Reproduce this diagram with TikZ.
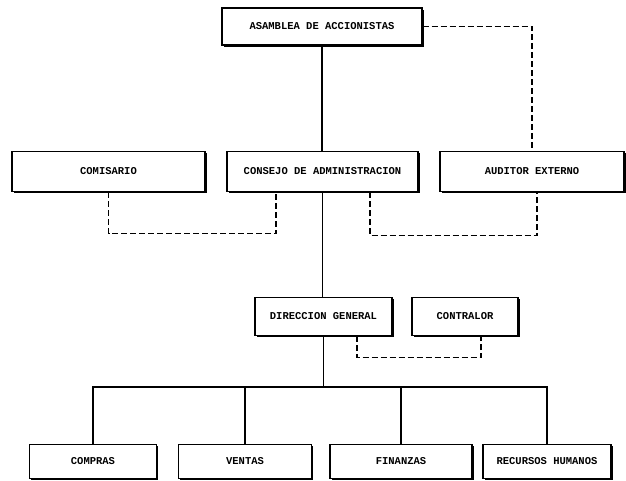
\documentclass[tikz,border=0pt]{standalone}
\usepackage{fontspec}
\setmonofont{Liberation Mono}
\usetikzlibrary{shadows}
\begin{document}
\begin{tikzpicture}[x=1pt,y=-1pt,
    unidad/.style={draw,line width=1.1pt,fill=white,inner sep=0pt,minimum height=#1,
      font=\ttfamily\bfseries\fontsize{10.5}{12}\selectfont,
      drop shadow={shadow xshift=1.5pt,shadow yshift=-1.8pt,opacity=1,fill=black}},
    unidad/.default=40pt,
    linea/.style={line width=1.1pt},
    staff/.style={line width=1.1pt,dash pattern=on 6pt off 3pt}]
  \useasboundingbox (0,0) rectangle (626,481);
  \node[unidad=37pt,minimum width=200pt] (asamblea) at (322,26.5) {ASAMBLEA DE ACCIONISTAS};
  \node[unidad,minimum width=193pt] (comisario) at (108.5,171.5) {COMISARIO};
  \node[unidad,minimum width=191pt] (consejo) at (322.5,171.5) {CONSEJO DE ADMINISTRACION};
  \node[unidad,minimum width=184pt] (auditor) at (532,171.5) {AUDITOR EXTERNO};
  \node[unidad=38pt,minimum width=137pt] (direccion) at (323.5,316.5) {DIRECCION GENERAL};
  \node[unidad=38pt,minimum width=106pt] (contralor) at (465,316.5) {CONTRALOR};
  \node[unidad=34pt,minimum width=127pt] (compras) at (93,461.5) {COMPRAS};
  \node[unidad=34pt,minimum width=133pt] (ventas) at (245,461.5) {VENTAS};
  \node[unidad=34pt,minimum width=142pt] (finanzas) at (401,461.5) {FINANZAS};
  \node[unidad=34pt,minimum width=128pt] (recursos) at (547,461.5) {RECURSOS HUMANOS};
  \coordinate (bus) at (323.5,387);
  \begin{scope}[linea]
    \draw (asamblea.south) -- (asamblea.south |- consejo.north);
    \draw (consejo.south) -- (consejo.south |- direccion.north);
    \draw (direccion.south) -- (bus);
    \draw (bus) -| (compras.north);
    \draw (bus) -| (ventas.north);
    \draw (bus) -| (finanzas.north);
    \draw (bus) -| (recursos.north);
  \end{scope}
  \begin{scope}[staff]
    \draw (asamblea.east) -| (auditor.north);
    \draw (comisario.south) -- ++(0,41.5) -| ([xshift=-46.5pt]consejo.south);
    \draw ([xshift=47.5pt]consejo.south) -- ++(0,43.5) -| ([xshift=5pt]auditor.south);
    \draw ([xshift=33.5pt]direccion.south) -- ++(0,21.5) -| ([xshift=16pt]contralor.south);
  \end{scope}
\end{tikzpicture}
\end{document}
